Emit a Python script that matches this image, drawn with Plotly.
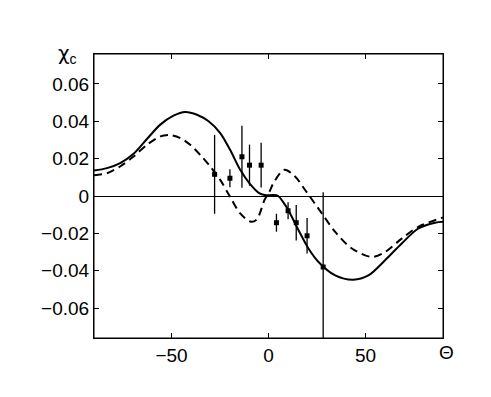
import plotly.graph_objects as go

# solid curve
solid_x = [-90, -83.3, -76.5, -69.6, -62.7, -55.8, -49, -43, -36.9, -30.9, -24.9, -19.8,
           -14.6, -9.8, -4.6, -1.2, 2.2, 5, 7.4, 9.9, 15.5, 20.6, 25.8, 34.4, 43.8, 51.5,
           60.1, 68.7, 77.3, 85.9, 90]
solid_y = [0.0136, 0.0149, 0.0176, 0.0226, 0.0305, 0.0382, 0.0430, 0.0450, 0.0435, 0.0400,
           0.0337, 0.0247, 0.0140, 0.0068, 0.0014, 0.0004, 0.0005, 0.0, -0.0030, -0.0070,
           -0.0183, -0.0281, -0.0353, -0.0425, -0.0448, -0.0425, -0.0344, -0.0254, -0.0174,
           -0.0143, -0.0138]

# dashed curve
dash_x = [-90, -83.3, -76.5, -69.6, -62.7, -55.8, -50.7, -45.5, -40.4, -35.2, -30.1, -24.9,
          -19.8, -14.6, -9, -6, -2, 0.5, 2.6, 8.2, 13.7, 18.9, 27.5, 34.4, 43, 53.3,
          60.1, 68.7, 77.3, 90]
dash_y = [0.0111, 0.0122, 0.0158, 0.0211, 0.0274, 0.0319, 0.0326, 0.0310, 0.0274, 0.0220,
          0.0158, 0.0086, -0.0004, -0.0093, -0.0138, -0.0125, -0.0020, 0.0023, 0.0070, 0.0140,
          0.0104, 0.0032, -0.0093, -0.0192, -0.0281, -0.0326, -0.0300, -0.0228, -0.0165,
          -0.0115]

# measured points with error bars
pts_x = [-27.8, -19.9, -13.7, -9.8, -3.8, 4.1, 10.1, 14.3, 19.9, 28.2]
pts_y = [0.0116, 0.0095, 0.0210, 0.0165, 0.0165, -0.0143, -0.0079, -0.0143, -0.0213, -0.0380]
pts_err = [0.0211, 0.0048, 0.0166, 0.0110, 0.0120, 0.0048, 0.0045, 0.0095, 0.0095, 0.0400]

ytick_vals = [-0.06, -0.04, -0.02, 0, 0.02, 0.04, 0.06]
ytick_text = ["−0.06", "−0.04", "−0.02", "0", "0.02", "0.04", "0.06"]
xtick_vals = [-50, 0, 50]
xtick_text = ["−50", "0", "50"]

fig = go.Figure()
fig.add_trace(go.Scatter(x=dash_x, y=dash_y, mode="lines",
                         line=dict(color="black", width=2, dash="8px,5px", shape="spline", smoothing=0.9)))
fig.add_trace(go.Scatter(x=solid_x, y=solid_y, mode="lines",
                         line=dict(color="black", width=2, shape="spline", smoothing=0.9)))
fig.add_trace(go.Scatter(x=pts_x, y=pts_y, mode="markers",
                         marker=dict(symbol="square", size=5, color="black"),
                         error_y=dict(type="data", array=pts_err, color="black", thickness=1.3, width=0)))

# the page body adds an 8px offset, so margins are shifted to compensate
fig.update_layout(
    width=491, height=397,
    margin=dict(l=86, r=56, t=46, b=67, autoexpand=False),
    paper_bgcolor="white", plot_bgcolor="white",
    showlegend=False,
    font=dict(family="Liberation Sans, Arial, sans-serif", size=19, color="black"),
    shapes=[dict(type="rect", xref="paper", yref="paper", x0=0, x1=1, y0=0, y1=1,
                 line=dict(color="black", width=1), layer="above")],
    annotations=[
        dict(text="<span style='font-family:DejaVu Sans'>χ</span><sub>c</sub>",
             xref="paper", yref="paper", x=-0.075, y=1.0,
             showarrow=False, font=dict(size=20), xanchor="center", yanchor="middle"),
        dict(text="Θ", xref="paper", yref="paper", x=1.01, y=-0.05,
             showarrow=False, font=dict(size=19), xanchor="center", yanchor="middle"),
    ],
)
fig.update_xaxes(range=[-90, 90], tickvals=xtick_vals, ticktext=xtick_text,
                 ticks="inside", ticklen=5, tickcolor="black", showgrid=False,
                 showline=True, linecolor="black", linewidth=1, mirror="ticks",
                 zeroline=False, automargin=False)
fig.update_yaxes(range=[-0.076, 0.076], tickvals=ytick_vals, ticktext=ytick_text,
                 ticks="inside", ticklen=5, tickcolor="black", showgrid=False,
                 showline=True, linecolor="black", linewidth=1, mirror="ticks",
                 zeroline=True, zerolinecolor="black", zerolinewidth=1, automargin=False)

fig.write_html("out.html")
